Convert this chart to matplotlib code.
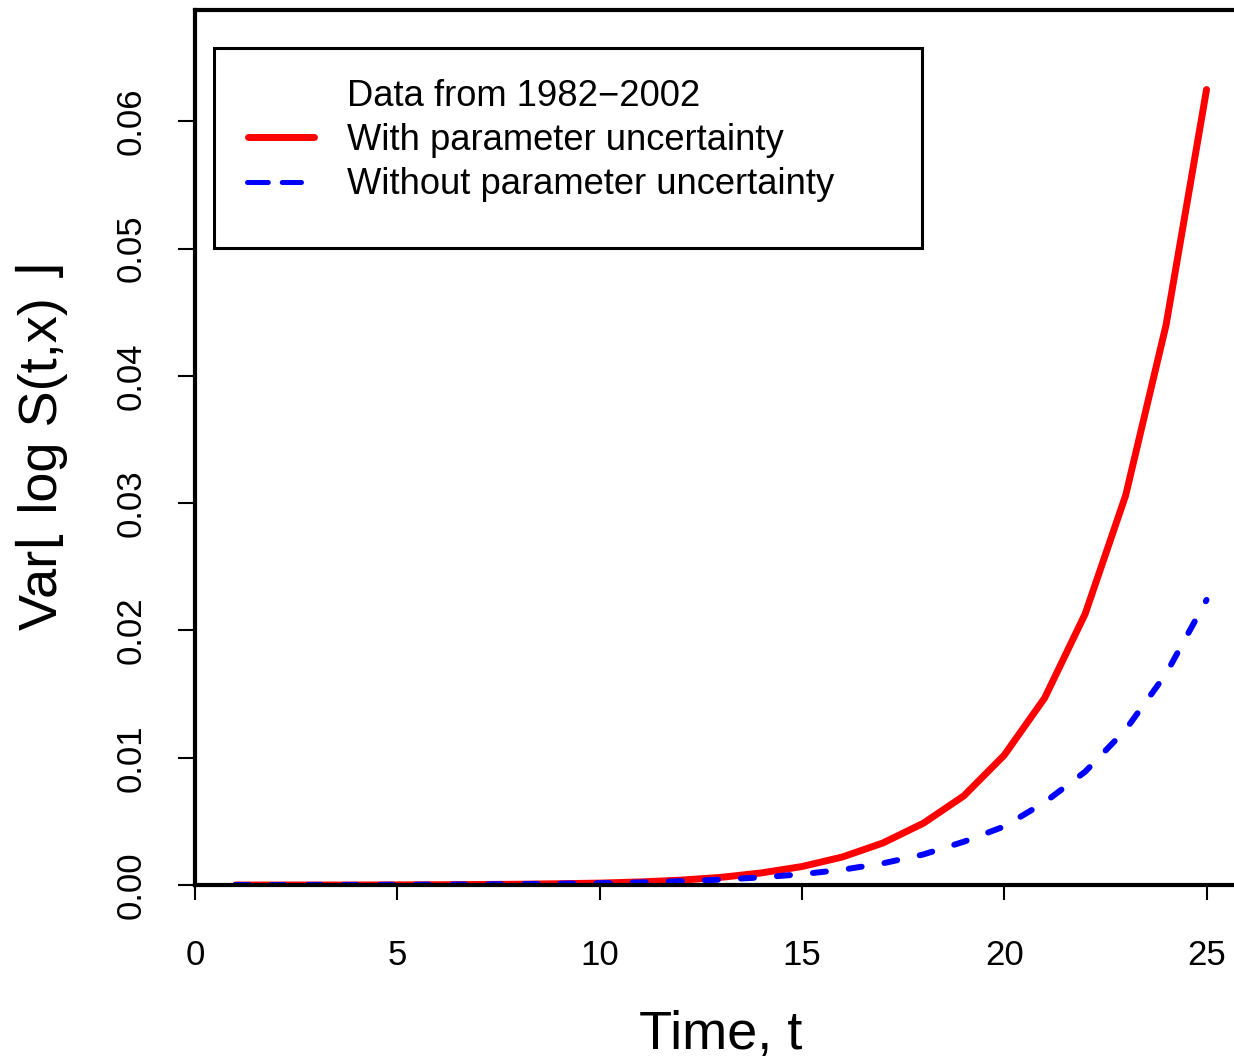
import matplotlib
matplotlib.use("Agg")
import matplotlib.pyplot as plt
from matplotlib.patches import Rectangle
from matplotlib.lines import Line2D

plt.rcParams["font.family"] = ["Liberation Sans", "DejaVu Sans"]
plt.rcParams["lines.scale_dashes"] = False

# values
TIME = list(range(1, 26))
VAR_WITH = [0.0, 0.0, 0.0, 0.0, 0.00001, 0.00002, 0.00004, 0.00006, 0.0001, 0.00015,
            0.00024, 0.00038, 0.0006, 0.00095, 0.00145, 0.0022, 0.0033, 0.00485, 0.0070,
            0.0102, 0.0147, 0.0213, 0.0306, 0.0440, 0.0625]
VAR_WITHOUT = [0.0, 0.0, 0.00001, 0.00001, 0.00002, 0.00003, 0.00005, 0.00007, 0.0001,
               0.00014, 0.0002, 0.0003, 0.00042, 0.0006, 0.00085, 0.0012, 0.0017, 0.0024,
               0.0034, 0.0046, 0.0065, 0.0089, 0.0122, 0.0166, 0.0224]
X_TICKS = [0, 5, 10, 15, 20, 25]
Y_TICKS = [0.0, 0.01, 0.02, 0.03, 0.04, 0.05, 0.06]
LEGEND_TITLE = "Data from 1982\u22122002"
LABEL_WITH = "With parameter uncertainty"
LABEL_WITHOUT = "Without parameter uncertainty"

W, H = 1234, 1063
AX_L, AX_R, AX_T, AX_B = 195, 1247, 10, 885

fig = plt.figure(figsize=(W / 100, H / 100), dpi=100)
ax = fig.add_axes([AX_L / W, 1 - AX_B / H, (AX_R - AX_L) / W, (AX_B - AX_T) / H])


def axfrac(x, y):
    # pixel position -> axes fraction
    return (x - AX_L) / (AX_R - AX_L), (AX_B - y) / (AX_B - AX_T)


red_kw = dict(color="#ff0000", lw=5, solid_capstyle="round", solid_joinstyle="round")
blue_kw = dict(color="#0000ff", lw=4.3, dash_capstyle="round", dash_joinstyle="round")

ax.plot(TIME, VAR_WITH, **red_kw)
ax.plot(TIME, VAR_WITHOUT, linestyle=(0, (9.4, 16.6)), **blue_kw)

ax.set_xlim(0, 26)
ax.set_ylim(0, max(VAR_WITH) * 1.1)
ax.set_xticks(X_TICKS)
ax.set_xticklabels([str(t) for t in X_TICKS])
ax.set_yticks(Y_TICKS)
ax.set_yticklabels([f"{v:.2f}" for v in Y_TICKS], rotation=90, va="center")
ax.tick_params(axis="x", length=11, width=1.5, pad=28, labelsize=25)
ax.tick_params(axis="y", length=12, width=1.5, pad=22, labelsize=25)
for s in ax.spines.values():
    s.set_linewidth(3)

fig.text(721 / W, 1 - 1035 / H, "Time, t", ha="center", va="center", fontsize=39)
fig.text(42 / W, 1 - 446 / H, "Var\u230a log S(t,x) \u230b", rotation=90,
         ha="center", va="center", fontsize=39)

# legend box drawn by hand to match its odd padding
x0, y0 = axfrac(214, 248)
x1, y1 = axfrac(922, 48)
ax.add_patch(Rectangle((x0, y0), x1 - x0, y1 - y0, transform=ax.transAxes,
                       fill=False, lw=2.2, edgecolor="black", zorder=5))
tx, _ = axfrac(347, 0)
for label, py in [(LEGEND_TITLE, 96), (LABEL_WITH, 140), (LABEL_WITHOUT, 185)]:
    ax.text(tx, axfrac(0, py)[1], label, transform=ax.transAxes, ha="left",
            va="center", fontsize=26.2, zorder=6)
ra, ry = axfrac(248, 137)
rb, _ = axfrac(314, 137)
ax.add_line(Line2D([ra, rb], [ry, ry], transform=ax.transAxes, **red_kw))
ba, by = axfrac(247, 182)
bb, _ = axfrac(301, 182)
ax.add_line(Line2D([ba, bb], [by, by], transform=ax.transAxes,
                   linestyle=(0, (15, 10)), color="#0000ff", lw=3.6,
                   dash_capstyle="round"))

fig.savefig("out.png", dpi=100)
